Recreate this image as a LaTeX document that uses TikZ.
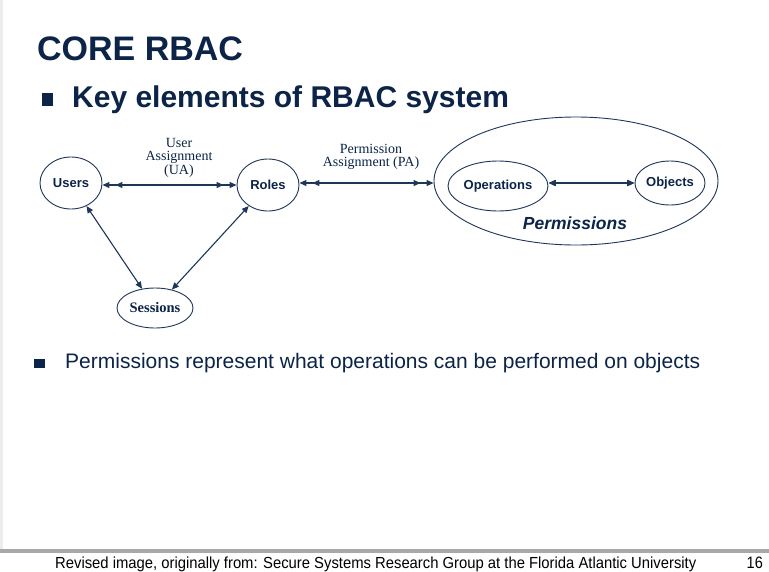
\documentclass[tikz,border=0pt]{standalone}
\usepackage{fontspec}
\setmainfont{Liberation Serif}
\newfontfamily\arial{Liberation Sans}
\usetikzlibrary{shapes.geometric,arrows.meta,decorations.markings}
\definecolor{navy}{HTML}{0B2447}
\definecolor{ink}{HTML}{1E3658}
\definecolor{rule}{HTML}{A8A8A8}
\begin{document}
\begin{tikzpicture}[x=1pt,y=-1pt,
  tip/.tip={Triangle[length=7pt,width=6pt]},
  ell/.style={ellipse,draw=ink,line width=0.9pt,inner sep=0pt},
  sanslbl/.style={font=\arial\bfseries\fontsize{13}{13}\selectfont,text=navy},
  link/.style={draw=ink,line width=1.1pt,{tip}-{tip}},
  innerheads/.style={postaction={decorate,decoration={markings,
      mark=at position #1 with {\arrowreversed{tip}},
      mark=at position -#1 with {\arrow{tip}}}}},
  lbl/.style={align=center,text=navy,inner sep=0pt,
      font=\fontsize{14}{12.5}\selectfont}]
\useasboundingbox (0,0) rectangle (769,571);
\fill[white] (0,0) rectangle (769,571);
\fill[white!93!black] (0,0) rectangle (2.5,549);
\fill[rule] (0,549) rectangle (769,552.5);

% headings
\node[anchor=base west,inner sep=0pt,text=navy,
  font=\arial\bfseries\fontsize{34}{34}\selectfont] (title) at (37,60) {CORE RBAC};
\fill[navy] (42,93) rectangle (53,106);
\node[anchor=base west,inner sep=0pt,text=navy,
  font=\arial\bfseries\fontsize{30}{30}\selectfont] (sub) at (72,107) {Key elements of RBAC system};

% diagram
\node[ell,sanslbl,minimum width=62pt,minimum height=52pt] (Users) at (71,183) {Users};
\node[ell,sanslbl,minimum width=62pt,minimum height=52pt] (Roles) at (268,185) {Roles};
\node[ell,minimum width=76pt,minimum height=40pt,text=navy,
  font=\bfseries\fontsize{14.5}{14.5}\selectfont] (Sessions) at (155,308) {Sessions};
\node[ell,minimum width=284pt,minimum height=128pt] (Perm) at (576,181) {};
\node[ell,sanslbl,minimum width=100pt,minimum height=50pt] (Ops) at (498,186) {Operations};
\node[ell,sanslbl,minimum width=70pt,minimum height=44pt] (Objs) at (670,183) {Objects};
\node[text=navy,inner sep=0pt,
  font=\arial\bfseries\itshape\fontsize{17.5}{17.5}\selectfont] (permlbl) at (575,223) {Permissions};

\node[lbl] (ua) at (179,158) {User\\Assignment\\(UA)};
\node[lbl] (pa) at (371,157) {Permission\\Assignment (PA)};

\draw[link,innerheads=13pt] (Users.east |- 0,185) -- (Roles.west);
\draw[link,innerheads=13pt] (Roles.east |- 0,183) -- (Perm.west |- 0,183);
\draw[link,innerheads=0.5pt] (Ops.east |- Objs.west) -- (Objs.west);
\draw[link] (Users) -- (Sessions);
\draw[link] (Sessions) -- (Roles);

% bullet text
\fill[navy] (34,359) rectangle (45,368);
\node[anchor=base west,inner sep=0pt,text=navy,
  font=\arial\fontsize{21}{21}\selectfont] (note) at (65,368)
  {Permissions represent what operations can be performed on objects};

% footer
\node[anchor=base west,inner sep=0pt,text=black,xscale=0.926,
  font=\arial\fontsize{16}{16}\selectfont] (foot) at (55,568)
  {Revised image, originally from: Secure Systems Research Group at the Florida Atlantic University};
\node[anchor=base east,inner sep=0pt,text=black,xscale=0.88,
  font=\arial\fontsize{16.5}{16.5}\selectfont] (page) at (763,568) {16};
\end{tikzpicture}
\end{document}
